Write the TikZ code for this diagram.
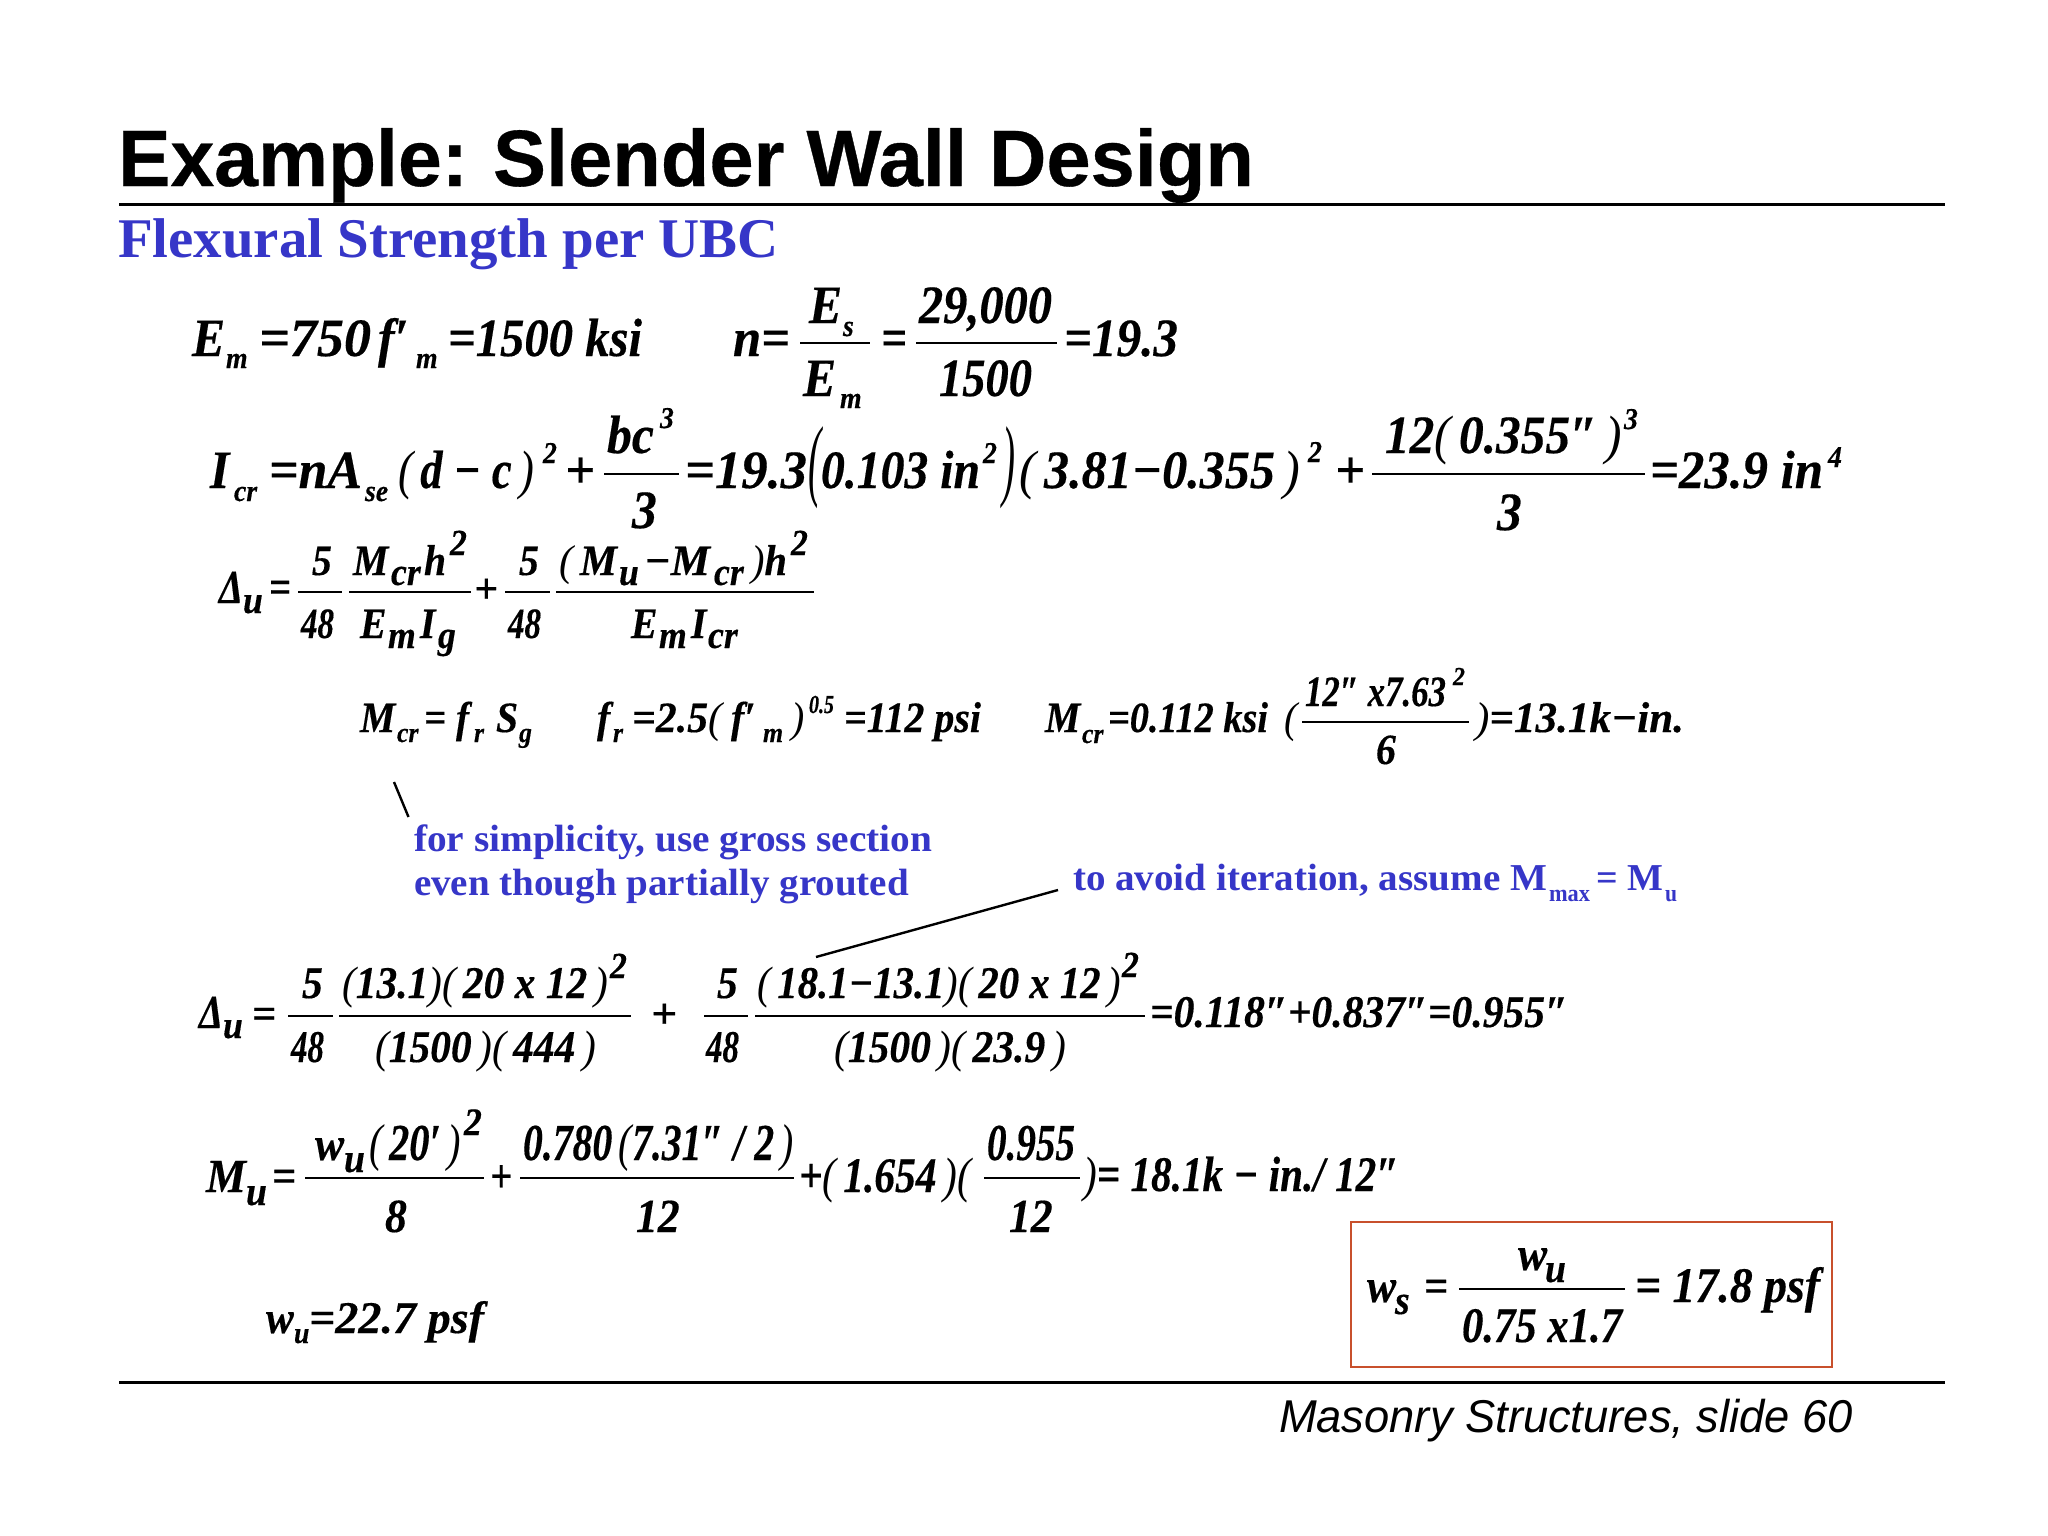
\documentclass[tikz,border=0pt]{standalone}
\usepackage{fontspec}
\setmainfont{Liberation Serif}
\newfontfamily\sansf{Liberation Sans}
\newfontfamily\titlef[BoldFeatures={FakeBold=0.4}]{Liberation Sans}
\newfontfamily\eqf[BoldItalicFeatures={FakeBold=0.35}]{Liberation Serif}
\definecolor{slideblue}{HTML}{3636C8}
\definecolor{boxred}{HTML}{C8502C}
\newcounter{tok}
\newsavebox{\tokbox}
\newcommand\lp{{\mdseries(}}
\newcommand\rp{{\mdseries)}}
\tikzset{
  tok/.style={anchor=base west,inner sep=0pt,outer sep=0pt},
  rule/.style={draw=black,line width=3pt},
  fbar/.style={draw=black,line width=1.8pt},
  leader/.style={draw=black,line width=2.4pt}
}
\newcommand\PUT[5]{%
  \stepcounter{tok}%
  \node[tok] (tok\arabic{tok}) at (#2,#3) {#4\sbox{\tokbox}{#5}%
    \ifdim #1pt=0pt \scalebox{0.92}[1]{\usebox{\tokbox}}%
    \else \pgfmathsetmacro\fitscale{#1/\the\wd\tokbox}\scalebox{\fitscale}[1]{\usebox{\tokbox}}\fi};}
\newcommand\EQ[5][0]{\pgfmathsetmacro\eqsz{#4*1.08}\PUT{#1}{#2}{#3}{\fontsize{\eqsz}{\eqsz}\selectfont\eqf\bfseries\itshape}{#5}}
\newcommand\BAR[3]{\draw[fbar] (#1,#3) -- (#2,#3);}
\begin{document}
\begin{tikzpicture}[x=1pt,y=-1pt]
\fill[white] (0,0) rectangle (2048,1536);
\useasboundingbox (0,0) rectangle (2048,1536);
% title
\PUT{350}{118}{186}{\fontsize{80}{80}\selectfont\titlef\bfseries}{Example:}
\PUT{761}{493}{186}{\fontsize{80}{80}\selectfont\titlef\bfseries}{Slender Wall Design}
\draw[rule] (119,204) -- (1945,204);
\PUT{661}{118}{257}{\fontsize{56}{56}\selectfont\bfseries\color{slideblue}}{Flexural Strength per UBC}
% line 1
\EQ{192}{356}{50}{E}
\EQ{226}{368}{28}{m}
\EQ[112]{259}{356}{50}{=750}
\EQ{378}{356}{50}{f′}
\EQ{416}{368}{28}{m}
\EQ[194]{448}{356}{50}{=1500 ksi}
\EQ[57]{733}{356}{50}{n=}
\BAR{800}{870}{343}
\EQ{809}{323}{50}{E}
\EQ{843}{336}{28}{s}
\EQ[26]{881}{356}{50}{=}
\BAR{916}{1057}{343}
\EQ[133]{919}{323}{50}{29,000}
\EQ[93]{939}{396}{50}{1500}
\EQ{803}{396}{50}{E}
\EQ{840}{408}{28}{m}
\EQ[114]{1064}{356}{50}{=19.3}
% line 2
\EQ{210}{488}{50}{I}
\EQ{234}{501}{28}{cr}
\EQ[93]{269}{488}{50}{=nA}
\EQ{365}{501}{28}{se}
\EQ[136]{398}{488}{50}{\lp\,d − c\,\rp}
\EQ{543}{463}{28}{2}
\EQ[30]{565}{488}{50}{+}
\BAR{604}{679}{474}
\EQ{607}{453}{50}{bc}
\EQ{660}{428}{28}{3}
\EQ{632}{528}{50}{3}
\EQ[122]{685}{488}{50}{=19.3}
\EQ[13]{808}{489}{84}{\lp}
\EQ[159]{821}{488}{50}{0.103 in}
\EQ{983}{463}{28}{2}
\EQ[13]{1002}{489}{84}{\rp}
\EQ[281]{1019}{488}{50}{\lp\,3.81−0.355\,\rp}
\EQ{1308}{462}{28}{2}
\EQ[30]{1335}{488}{50}{+}
\BAR{1372}{1645}{474}
\EQ[237]{1385}{453}{50}{12\lp\,0.355″\,\rp}
\EQ{1624}{429}{28}{3}
\EQ{1497}{530}{50}{3}
\EQ[173]{1650}{488}{50}{=23.9 in}
\EQ{1828}{467}{28}{4}
% line 3
\EQ[24]{219}{603}{44}{Δ}
\EQ{243}{613}{36}{u}
\EQ[22]{269}{603}{44}{=}
\BAR{298}{342}{592}
\EQ{312}{575}{40}{5}
\EQ[33]{301}{638}{40}{48}
\BAR{349}{471}{592}
\EQ{353}{575}{40}{M}
\EQ{391}{585}{36}{cr}
\EQ{424}{575}{40}{h}
\EQ{450}{555}{34}{2}
\EQ{360}{638}{40}{E}
\EQ{388}{648}{36}{m}
\EQ{420}{638}{40}{I}
\EQ{438}{648}{36}{g}
\EQ[24]{474}{603}{40}{+}
\BAR{505}{550}{592}
\EQ{519}{575}{40}{5}
\EQ[33]{508}{638}{40}{48}
\BAR{556}{814}{592}
\EQ[58]{559}{575}{40}{\lp\,M}
\EQ{619}{585}{36}{u}
\EQ[66]{644}{575}{40}{−M}
\EQ{714}{585}{36}{cr}
\EQ[36]{751}{575}{40}{\rp h}
\EQ{791}{555}{34}{2}
\EQ{631}{638}{40}{E}
\EQ{659}{648}{36}{m}
\EQ{691}{638}{40}{I}
\EQ{708}{648}{36}{cr}
% line 4
\EQ{360}{732}{40}{M}
\EQ{397}{742}{26}{cr}
\EQ[45]{424}{732}{40}{= f}
\EQ{474}{742}{26}{r}
\EQ{496}{732}{40}{S}
\EQ{519}{742}{26}{g}
\EQ{597}{732}{40}{f}
\EQ{613}{742}{26}{r}
\EQ[97]{632}{732}{40}{=2.5\lp\,}
\EQ{731}{732}{40}{f′}
\EQ{763}{742}{26}{m}
\EQ{791}{732}{40}{\rp}
\EQ[25]{809}{713}{24}{0.5}
\EQ[137]{844}{732}{40}{=112 psi}
\EQ{1045}{732}{40}{M}
\EQ{1082}{743}{26}{cr}
\EQ[160]{1108}{732}{40}{=0.112 ksi}
\EQ{1284}{732}{40}{\lp}
\BAR{1302}{1469}{722}
\EQ[141]{1305}{706}{40}{12″ x7.63}
\EQ{1453}{685}{24}{2}
\EQ{1376}{764}{40}{6}
\EQ[209]{1475}{732}{40}{\rp=13.1k−in.}
% notes
\coordinate (noteA) at (394,782);
\coordinate (noteB) at (408.5,817);
\draw[leader] (noteA) -- (noteB);
\PUT{518}{414}{851}{\fontsize{38}{38}\selectfont\bfseries\color{slideblue}}{for simplicity, use gross section}
\PUT{495}{414}{895}{\fontsize{38}{38}\selectfont\bfseries\color{slideblue}}{even though partially grouted}
\PUT{474}{1073}{890}{\fontsize{38}{38}\selectfont\bfseries\color{slideblue}}{to avoid iteration, assume M}
\PUT{41}{1549}{901}{\fontsize{24}{24}\selectfont\bfseries\color{slideblue}}{max}
\PUT{67}{1596}{890}{\fontsize{38}{38}\selectfont\bfseries\color{slideblue}}{= M}
\PUT{12}{1665}{901}{\fontsize{24}{24}\selectfont\bfseries\color{slideblue}}{u}
\coordinate (noteC) at (1058,890);
\coordinate (noteD) at (816,957);
\draw[leader] (noteC) -- (noteD);
% line 5
\EQ[24]{199}{1028}{44}{Δ}
\EQ{223}{1038}{36}{u}
\EQ[24]{252}{1028}{40}{=}
\BAR{288}{333}{1016}
\EQ{302}{998}{42}{5}
\EQ[33]{291}{1062}{42}{48}
\BAR{339}{631}{1016}
\EQ[266]{342}{998}{42}{\lp 13.1\rp\lp\,20 x 12\,\rp}
\EQ{610}{978}{34}{2}
\EQ[221]{375}{1062}{42}{\lp 1500\,\rp\lp\,444\,\rp}
\EQ[26]{651}{1028}{40}{+}
\BAR{704}{748}{1016}
\EQ{717}{998}{42}{5}
\EQ[33]{706}{1062}{42}{48}
\BAR{755}{1145}{1016}
\EQ[364]{757}{998}{42}{\lp\,18.1−13.1\rp\lp\,20 x 12\,\rp}
\EQ{1122}{977}{34}{2}
\EQ[232]{834}{1062}{42}{\lp 1500\,\rp\lp\,23.9\,\rp}
\EQ[418]{1150}{1027}{42}{=0.118″+0.837″=0.955″}
% line 6
\EQ[40]{206}{1192}{44}{M}
\EQ{246}{1205}{38}{u}
\EQ[24]{272}{1192}{44}{=}
\BAR{305}{484}{1178}
\EQ{315}{1160}{44}{w}
\EQ{344}{1172}{38}{u}
\EQ[92]{369}{1160}{48}{\lp\,20′\,\rp}
\EQ{464}{1135}{36}{2}
\EQ{385}{1232}{44}{8}
\EQ[22]{490}{1192}{44}{+}
\BAR{520}{794}{1178}
\EQ[271]{523}{1160}{48}{0.780\,\lp 7.31″ / 2\,\rp}
\EQ{636}{1232}{44}{12}
\EQ[172]{799}{1192}{46}{+\lp\,1.654\,\rp\lp}
\BAR{984}{1080}{1178}
\EQ[88]{987}{1160}{48}{0.955}
\EQ{1009}{1232}{44}{12}
\EQ[316]{1083}{1191}{46}{\rp= 18.1k − in./ 12″}
% w_u
\EQ{266}{1333}{42}{w}
\EQ{294}{1343}{28}{u}
\EQ[175]{309}{1333}{42}{=22.7 psf}
% boxed
\draw[draw=boxred,line width=2pt] (1351,1222) rectangle (1832,1367);
\EQ{1367}{1302}{44}{w}
\EQ{1395}{1314}{38}{s}
\EQ[24]{1424}{1302}{44}{=}
\BAR{1459}{1625}{1289}
\EQ{1518}{1270}{44}{w}
\EQ{1545}{1282}{38}{u}
\EQ[160]{1462}{1342}{46}{0.75 x1.7}
\EQ[185]{1635}{1302}{46}{= 17.8 psf}
% footer
\draw[rule] (119,1382) -- (1945,1382);
\PUT{574}{1279}{1432}{\fontsize{46}{46}\selectfont\sansf\itshape}{Masonry Structures, slide 60}
\end{tikzpicture}
\end{document}
